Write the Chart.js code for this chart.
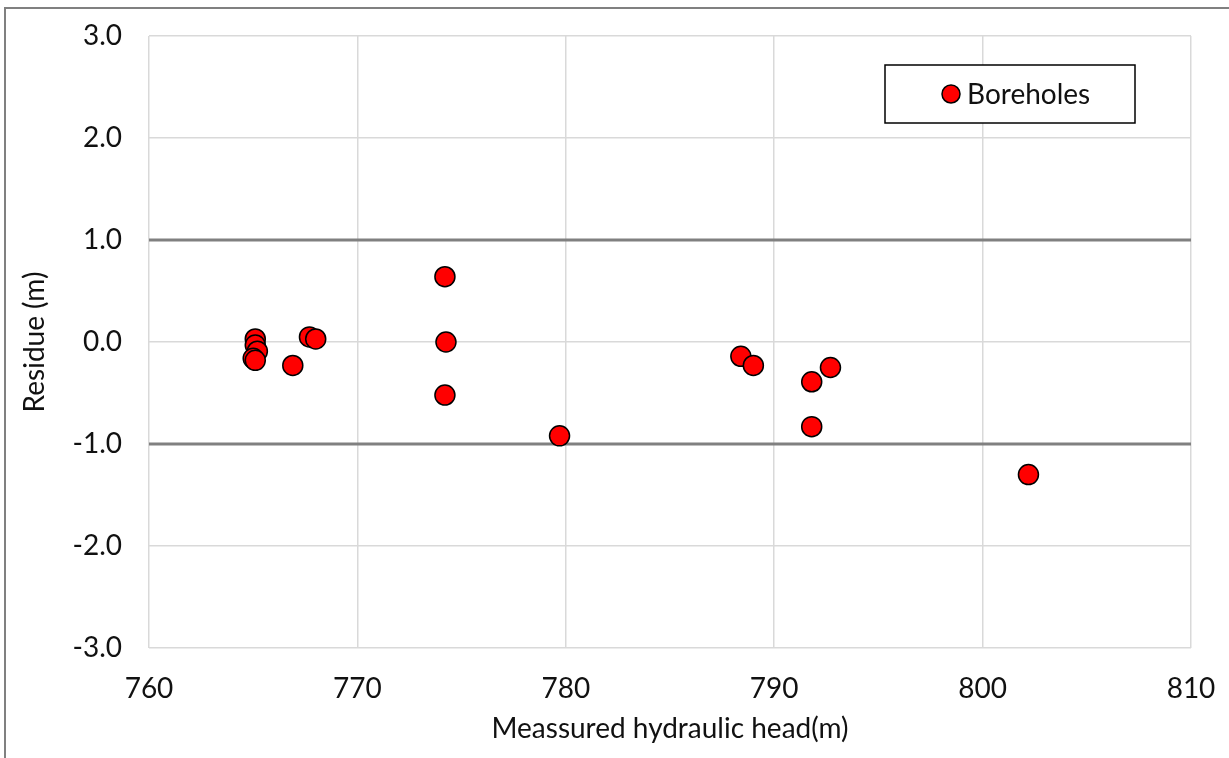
<!DOCTYPE html>
<html>
<head>
<meta charset="utf-8">
<script src="https://cdn.jsdelivr.net/npm/chart.js@4/dist/chart.umd.min.js"></script>
<style>
  html, body { margin: 0; padding: 0; background: #fff; }
  #wrap { position: relative; width: 1229px; height: 758px; overflow: hidden; }
  #frame { position: absolute; left: 4px; top: 7px; width: 1240px; height: 770px; border: 2px solid #808080; box-sizing: border-box; }
  canvas { position: absolute; left: 0; top: 0; }
</style>
</head>
<body>
<div id="wrap">
  <div id="frame"></div>
  <canvas id="chart" width="1229" height="758"></canvas>
</div>
<script>
// measured hydraulic head (m) per borehole
const heads = [765.1, 765.1, 765.2, 765.0, 765.1, 766.9, 767.7, 768.0, 774.2, 774.25, 774.2, 779.7, 788.4, 789.0, 792.7, 791.8, 791.8, 802.2];
// residue (m) per borehole
const residues = [0.03, -0.03, -0.09, -0.16, -0.18, -0.23, 0.05, 0.03, 0.64, 0.0, -0.52, -0.92, -0.14, -0.23, -0.25, -0.39, -0.83, -1.30];

// acceptance limits
const limitX = [760, 810];
const upperLimit = [1, 1];
const lowerLimit = [-1, -1];

const xTicks = [760, 770, 780, 790, 800, 810];
const yTicks = [-3, -2, -1, 0, 1, 2, 3];

const FONT = "Lato, 'Liberation Sans', sans-serif";
const TEXT = "#111";
const SIZE = 28;

const boreholes = heads.map((h, i) => ({ x: h, y: residues[i] }));
const upper = limitX.map((x, i) => ({ x: x, y: upperLimit[i] }));
const lower = limitX.map((x, i) => ({ x: x, y: lowerLimit[i] }));

// legend box in the top right of the plot
const boxLegend = {
    id: "boxLegend",
    afterDraw(chart) {
        const ctx = chart.ctx;
        const a = chart.chartArea;
        const x = a.right - 306, y = a.top + 29, w = 250, h = 58;
        ctx.save();
        ctx.fillStyle = "#fff";
        ctx.fillRect(x, y, w, h);
        ctx.strokeStyle = "#000";
        ctx.lineWidth = 1.5;
        ctx.strokeRect(x, y, w, h);
        ctx.beginPath();
        ctx.arc(x + 66, y + 29, 9, 0, Math.PI * 2);
        ctx.fillStyle = "#ff0000";
        ctx.fill();
        ctx.strokeStyle = "#000";
        ctx.lineWidth = 1.5;
        ctx.stroke();
        ctx.fillStyle = TEXT;
        ctx.font = SIZE + "px " + FONT;
        ctx.textBaseline = "middle";
        ctx.fillText("Boreholes", x + 82, y + 30);
        ctx.restore();
    }
};

new Chart(document.getElementById("chart"), {
    type: "scatter",
    data: {
        datasets: [
            {
                label: "Boreholes",
                data: boreholes,
                backgroundColor: "#ff0000",
                borderColor: "#000",
                borderWidth: 1.5,
                pointRadius: 10,
                order: 0
            },
            {
                label: "upper",
                type: "line",
                data: upper,
                borderColor: "#808080",
                borderWidth: 3,
                pointRadius: 0,
                order: 1
            },
            {
                label: "lower",
                type: "line",
                data: lower,
                borderColor: "#808080",
                borderWidth: 3,
                pointRadius: 0,
                order: 1
            }
        ]
    },
    options: {
        responsive: false,
        animation: false,
        layout: { padding: { left: 18, top: 36, right: 38, bottom: 0 } },
        plugins: {
            legend: { display: false },
            tooltip: { enabled: false }
        },
        scales: {
            x: {
                type: "linear",
                min: 760,
                max: 810,
                afterBuildTicks: s => { s.ticks = xTicks.map(v => ({ value: v })); },
                afterFit: s => { s.height = 110; s.paddingLeft = 0; s.paddingRight = 0; },
                grid: { color: "#d9d9d9", lineWidth: 1.5, drawTicks: false },
                border: { display: false },
                ticks: { color: TEXT, font: { family: FONT, size: SIZE }, padding: 24 },
                title: {
                    display: true,
                    text: "Meassured hydraulic head(m)",
                    color: TEXT,
                    font: { family: FONT, size: SIZE },
                    padding: { top: 0, bottom: 12 }
                }
            },
            y: {
                min: -3,
                max: 3,
                afterBuildTicks: s => { s.ticks = yTicks.map(v => ({ value: v })); },
                afterFit: s => { s.width = 131; s.paddingTop = 0; s.paddingBottom = 0; },
                grid: { color: "#d9d9d9", lineWidth: 1.5, drawTicks: false },
                border: { display: false },
                ticks: {
                    color: TEXT,
                    font: { family: FONT, size: SIZE },
                    padding: 27,
                    callback: v => v.toFixed(1)
                },
                title: {
                    display: true,
                    text: "Residue (m)",
                    color: TEXT,
                    font: { family: FONT, size: SIZE },
                    padding: 0
                }
            }
        }
    },
    plugins: [boxLegend]
});
</script>
</body>
</html>
